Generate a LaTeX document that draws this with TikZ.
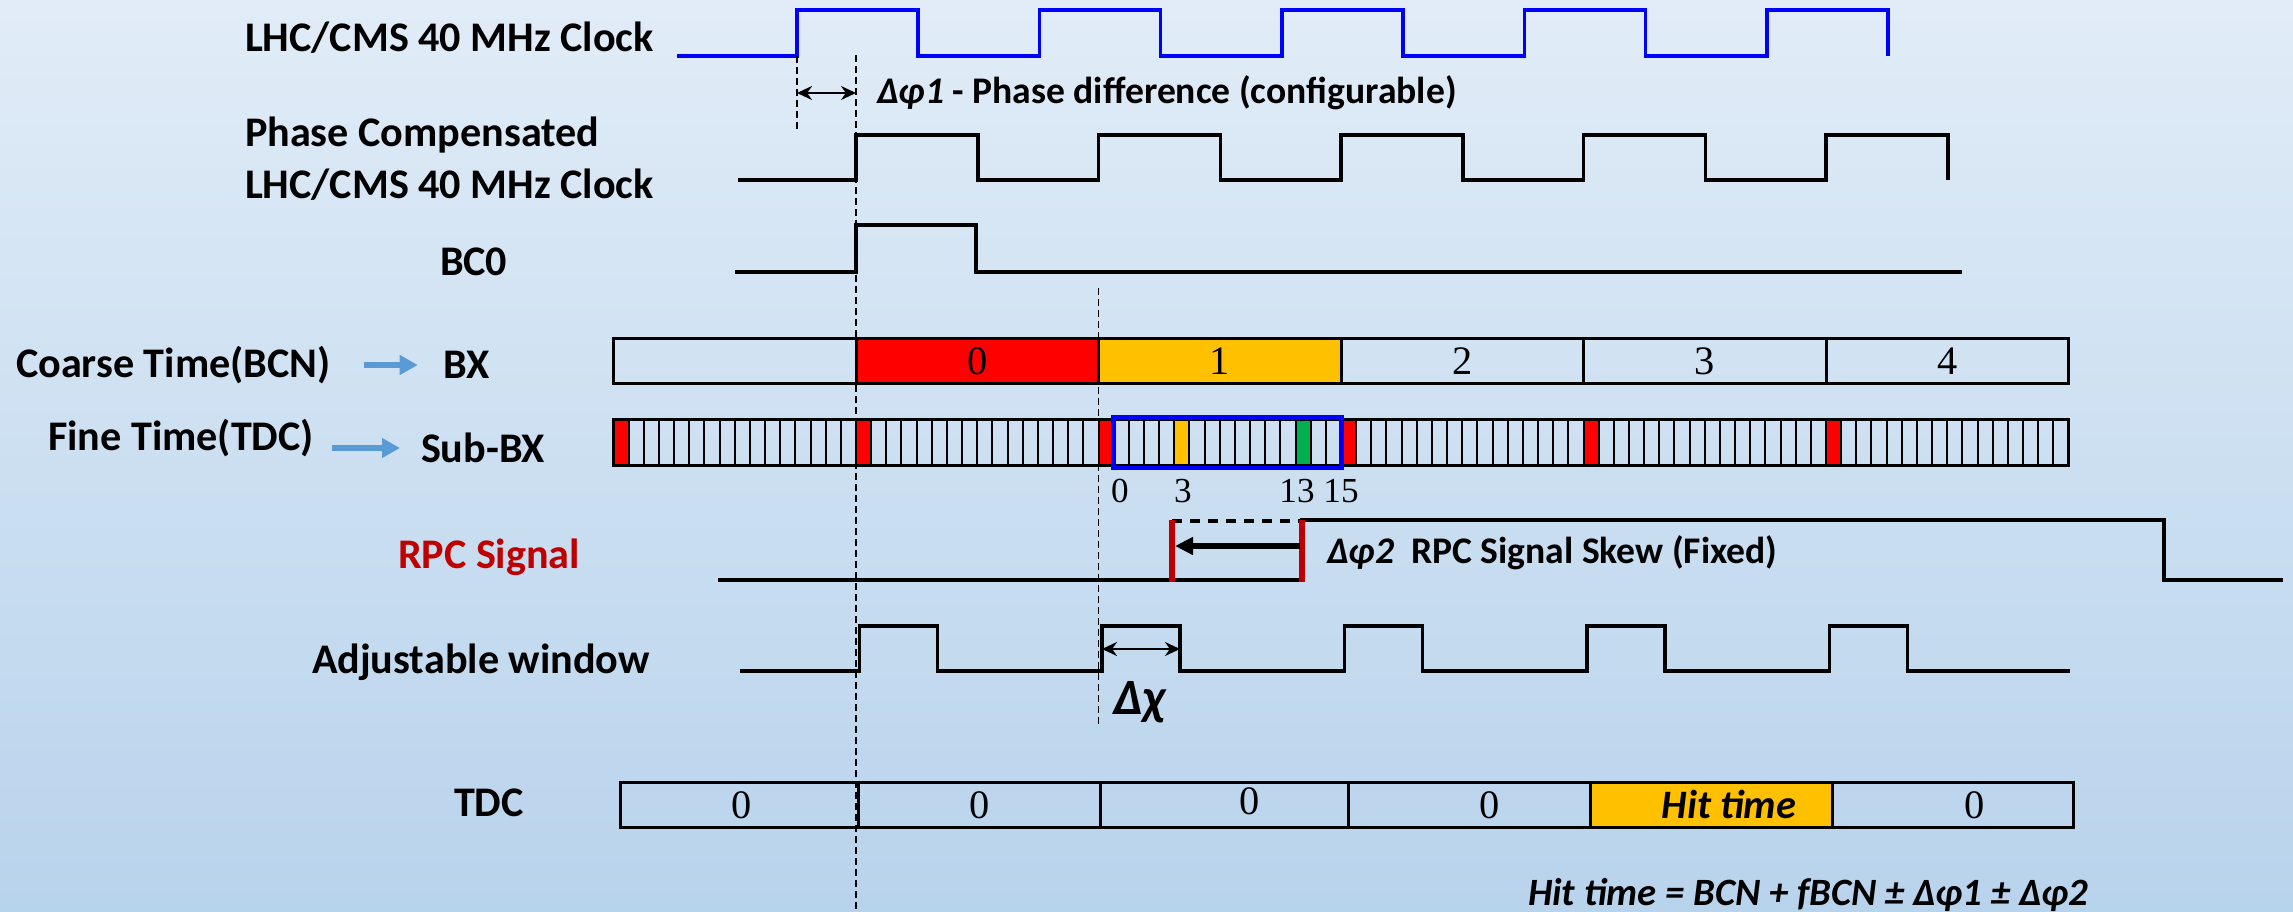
\documentclass[tikz,border=0pt]{standalone}
\usepackage{fontspec}
\setmainfont{Carlito}
\newfontfamily\numfont{Liberation Serif}
\usepackage{tikz}
\usetikzlibrary{arrows.meta, positioning, calc}
\definecolor{clkblue}{HTML}{0000FF}
\definecolor{bxred}{HTML}{FF0000}
\definecolor{bxyellow}{HTML}{FFC000}
\definecolor{subgreen}{HTML}{00B050}
\definecolor{rpcred}{HTML}{C00000}
\definecolor{arrowblue}{HTML}{5B9BD5}
\definecolor{bgtop}{HTML}{E1ECF7}
\definecolor{bgbot}{HTML}{B8D3EC}

\begin{document}
\begin{tikzpicture}[
    x=0.1mm, y=-0.1mm,
    every node/.style={inner sep=0pt, outer sep=0pt},
    lbl/.style={font=\bfseries\fontsize{12}{14.8}\selectfont, anchor=west},
    note/.style={lbl, font=\bfseries\fontsize{10.7}{13}\selectfont},
    num/.style={font=\numfont\fontsize{11.5}{13}\selectfont},
    smallnum/.style={font=\numfont\fontsize{10}{12}\selectfont},
    sig/.style={line width=0.33mm, line join=miter},
    clk/.style={sig, draw=clkblue},
    guide/.style={line width=0.12mm, dash pattern=on 0.7mm off 0.4mm},
    bar/.style={draw, line width=0.3mm},
    bxcell/.style={bar, minimum width=24.25mm, minimum height=4.5mm, num},
    cellline/.style={line width=0.2mm},
    dimarrow/.style={{Stealth[length=1.5mm,width=1.4mm]}-{Stealth[length=1.5mm,width=1.4mm]}, line width=0.28mm},
    bluearrow/.style={-{Triangle[length=1.8mm,width=1.9mm]}, line width=0.6mm, draw=arrowblue},
    skew/.style={line width=0.65mm, draw=rpcred},
    skewarrow/.style={-{Triangle[length=1.8mm,width=1.7mm]}, line width=0.6mm}
]
    \shade[top color=bgtop, bottom color=bgbot] (0,0) rectangle (2293,912);
    \useasboundingbox (0,0) rectangle (2293,912);

    % signal names
    \node[lbl] (clklbl) at (245,38) {LHC/CMS 40 MHz Clock};
    \node[lbl, align=left] (pclbl) at (245,159) {Phase Compensated\\LHC/CMS 40 MHz Clock};
    \node[lbl] (bc0lbl) at (440,262) {BC0};
    \node[lbl] (coarse) at (16,365) {Coarse Time(BCN)};
    \node[lbl, right=113 of coarse] (bx) {BX};
    \node[lbl] (fine) at (48,438) {Fine Time(TDC)};
    \node[lbl] (subbx) at (421,448) {Sub-BX};
    \node[lbl, text=rpcred] (rpclbl) at (398,557) {RPC Signal};
    \node[lbl] (winlbl) at (312,662) {Adjustable window};
    \node[lbl] (tdclbl) at (454,803) {TDC};

    \draw[bluearrow, shorten <=3.3mm, shorten >=2.6mm] (coarse) -- (bx);
    \draw[bluearrow, shorten <=1.8mm, shorten >=2.1mm] (fine.east |- subbx.west) -- (subbx.west);

    % clocks
    \draw[clk] (677,56) \foreach \k in {0,...,4}{ -- ({797+242.5*\k},56) |- ({918+242.5*\k},10) -- ({918+242.5*\k},56) };
    \draw[sig] (738,180) \foreach \k in {0,...,4}{ -- ({856+242.5*\k},180) |- ({978+242.5*\k},135) -- ({978+242.5*\k},180) };
    \draw[sig] (735,272) -- (856,272) |- (976,225) -- (976,272) -- (1962,272);

    \coordinate (phA) at (797,93);
    \coordinate (phB) at (856,93);
    \draw[dimarrow] (phA) -- (phB);
    \node[note] (ph1lbl) at (877,93) {\itshape Δφ1\upshape{} - Phase difference (configurable)};

    % BX and sub-BX
    \foreach \k/\c/\t in {0/none/{},1/bxred/0,2/bxyellow/1,3/none/2,4/none/3,5/none/4}
        \node[bxcell, fill=\c] (bx\k) at ({734.75+242.5*\k},361.5) {\t};

    \foreach \i in {0,16,...,80}
        \fill[bxred] ({613.5+15.156*\i},420) rectangle ++(15.156,46);
    \fill[bxyellow] ({613.5+15.156*37},420) rectangle ++(15.156,46);
    \fill[subgreen] ({613.5+15.156*45},420) rectangle ++(15.156,46);
    \foreach \i in {1,...,95}
        \draw[cellline] ({613.5+15.156*\i},420) -- ++(0,46);
    \draw[bar] (613.5,420) rectangle (2068.5,466);
    \draw[line width=0.45mm, draw=clkblue] (1113.6,417.5) rectangle (1341.5,468);

    \node[smallnum] (sub0) at (1120,491) {0};
    \node[smallnum] (sub3) at (1183,491) {3};
    \node[smallnum] (sub13) at (1297,491) {13};
    \node[smallnum] (sub15) at (1341,491) {15};

    % RPC signal
    \draw[sig] (718,580) -- (1302,580) |- (2164,520) -- (2164,580) -- (2283,580);
    \draw[sig, dash pattern=on 1mm off 0.8mm] (1172,521) -- (1302,521);
    \draw[skew] (1172,520) -- (1172,582);
    \draw[skew] (1302,520) -- (1302,582);
    \coordinate (skA) at (1300,546);
    \coordinate (skB) at (1175,546);
    \draw[skewarrow] (skA) -- (skB);
    \node[note] (ph2lbl) at (1327,553) {\itshape Δφ2\upshape\ \ RPC Signal Skew (Fixed)};

    % window
    \draw[sig] (740,671) \foreach \k in {0,...,4}{ -- ({859.5+242.5*\k},671) |- ({937.5+242.5*\k},626) -- ({937.5+242.5*\k},671) } -- (2070,671);
    \coordinate (chA) at (1102,649);
    \coordinate (chB) at (1180,649);
    \draw[dimarrow] (chA) -- (chB);
    \node[lbl, font=\bfseries\itshape\fontsize{14.5}{16}\selectfont] (dchi) at (1113,702) {Δχ};

    % TDC
    \foreach \a/\b/\c in {620/858/none, 858/1100/none, 1100/1348/none, 1348/1590/none, 1590/1832/bxyellow, 1832/2073/none}
        \draw[bar, fill=\c] (\a,782) rectangle (\b,827);
    \node[num] (tdcA) at (742,805) {0};
    \node[num] (tdcB) at (980,805) {0};
    \node[num] (tdcC) at (1250,801) {0};
    \node[num] (tdcD) at (1490,805) {0};
    \node[font=\bfseries\itshape\fontsize{11.5}{13}\selectfont] (tdcE) at (1729,804) {Hit time};
    \node[num] (tdcF) at (1975,805) {0};

    \node[lbl, font=\bfseries\itshape\fontsize{11}{13}\selectfont] (formula) at (1528,895) {Hit time = BCN + fBCN ± Δφ1 ± Δφ2};

    \draw[guide] (797,56) -- (797,130);
    \draw[guide] (856,55) -- (856,912);
    \draw[guide] (1098.5,288) -- (1098.5,727);
\end{tikzpicture}
\end{document}
